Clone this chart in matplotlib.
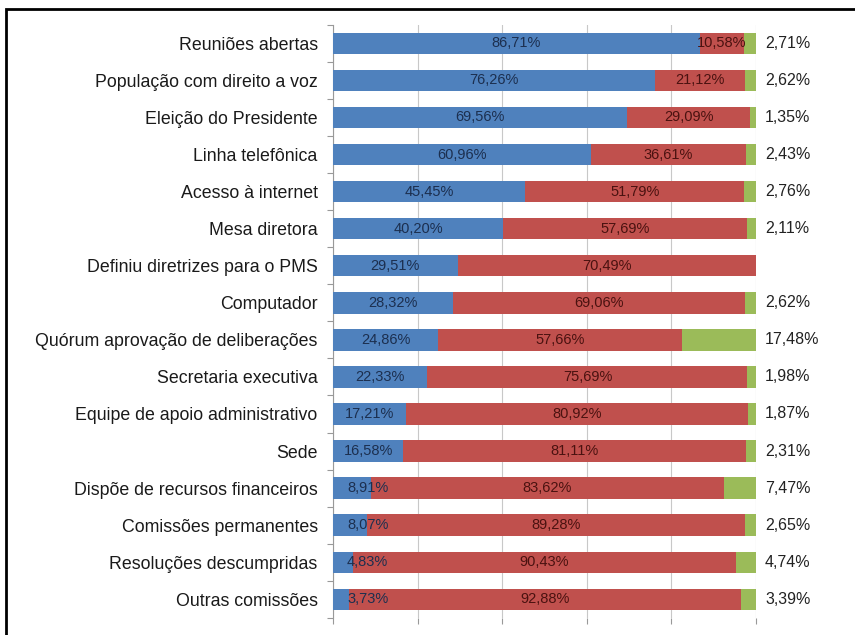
import numpy as np
import matplotlib.pyplot as plt
from matplotlib.patches import Rectangle

plt.rcParams['font.family'] = ['Liberation Sans', 'DejaVu Sans']

categorias = ['Reuniões abertas', 'População com direito a voz', 'Eleição do Presidente',
              'Linha telefônica', 'Acesso à internet', 'Mesa diretora',
              'Definiu diretrizes para o PMS', 'Computador',
              'Quórum aprovação de deliberações', 'Secretaria executiva',
              'Equipe de apoio administrativo', 'Sede', 'Dispõe de recursos financeiros',
              'Comissões permanentes', 'Resoluções descumpridas', 'Outras comissões']
sim = [86.71, 76.26, 69.56, 60.96, 45.45, 40.20, 29.51, 28.32, 24.86, 22.33,
       17.21, 16.58, 8.91, 8.07, 4.83, 3.73]
nao = [10.58, 21.12, 29.09, 36.61, 51.79, 57.69, 70.49, 69.06, 57.66, 75.69,
       80.92, 81.11, 83.62, 89.28, 90.43, 92.88]
outros = [2.71, 2.62, 1.35, 2.43, 2.76, 2.11, 0.0, 2.62, 17.48, 1.98,
          1.87, 2.31, 7.47, 2.65, 4.74, 3.39]

azul = '#4F81BD'
vermelho = '#C0504D'
verde = '#9BBB59'

def fmt(v):
    return ('%.2f%%' % v).replace('.', ',')

fig = plt.figure(figsize=(8.55, 6.35), dpi=100)
ax = fig.add_axes([0.3895, 0.027, 0.4945, 0.934])

y = np.arange(len(categorias))
sim = np.array(sim)
nao = np.array(nao)
outros = np.array(outros)
altura = 0.58

ax.barh(y, sim, height=altura, color=azul, zorder=3)
ax.barh(y, nao, left=sim, height=altura, color=vermelho, zorder=3)
ax.barh(y, outros, left=sim + nao, height=altura, color=verde, zorder=3)

for i in range(len(categorias)):
    # rotulos pequenos ficam presos perto da borda esquerda
    xs = max(sim[i] / 2, 8.2)
    ax.text(xs, y[i], fmt(sim[i]), ha='center', va='center',
            fontsize=10.5, color='#1c2f4f', zorder=4)
    ax.text(sim[i] + nao[i] / 2, y[i], fmt(nao[i]), ha='center', va='center',
            fontsize=10.5, color='#4a1210', zorder=4)
    if outros[i] > 0:
        ax.text(102.2, y[i], fmt(outros[i]), ha='left', va='center',
                fontsize=11.5, color='#222222', clip_on=False)

ax.set_xlim(0, 100)
ax.set_ylim(len(categorias) - 0.5, -0.5)
ax.set_xticks(np.arange(0, 101, 20))
ax.set_xticklabels([])
ax.xaxis.grid(True, color='#c8c8c8', linewidth=0.8, zorder=0)
ax.set_yticks(y)
ax.set_yticklabels(categorias, fontsize=12.8, color='#1a1a1a')
ax.set_yticks(np.arange(-0.5, len(categorias), 1.0), minor=True)
ax.tick_params(axis='y', which='major', length=0, pad=11)
ax.tick_params(axis='y', which='minor', length=4, color='#999999', width=0.8)
ax.tick_params(axis='x', length=4, color='#999999', width=0.8)

for lado in ['top', 'right', 'bottom']:
    ax.spines[lado].set_visible(False)
ax.spines['left'].set_color('#999999')
ax.spines['left'].set_linewidth(0.8)

# moldura da figura (cortada na direita e embaixo)
fig.patches.append(Rectangle((6 / 855, -0.05), 1.1, 1 - 9 / 635 + 0.05,
                             transform=fig.transFigure, fill=False,
                             edgecolor='black', linewidth=2))

fig.savefig('out.png', dpi=100)
